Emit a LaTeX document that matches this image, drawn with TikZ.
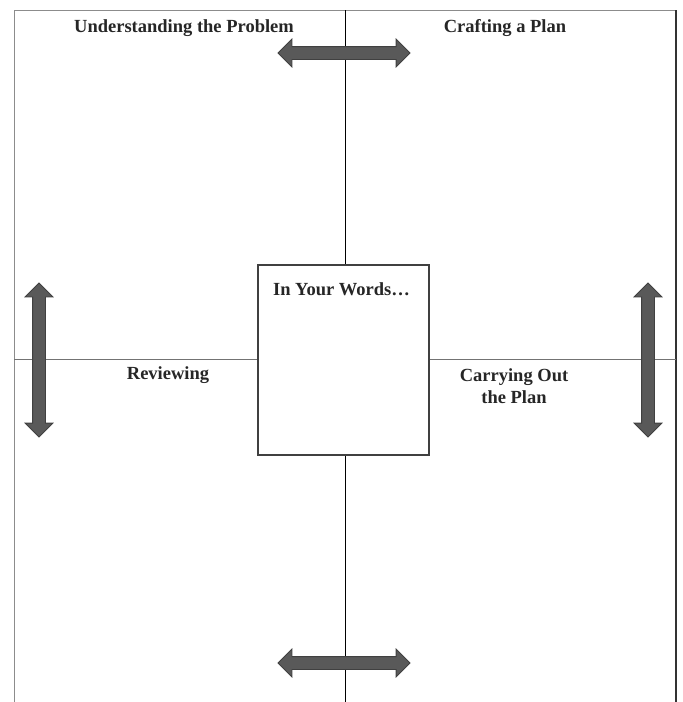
\documentclass[tikz,border=0pt]{standalone}
\usepackage{fontspec}
\setmainfont{Liberation Serif}
\usepackage{tikz}
\usetikzlibrary{shapes,shapes.arrows,calc,positioning}
\tikzset{dblarr/.style={double arrow, draw=black!75, fill=black!65, line width=0.8pt, inner sep=6pt, minimum height=132pt, double arrow head extend=7.5pt}}
\tikzstyle{lbl}=[font=\fontsize{18.5}{22}\selectfont\bfseries, text=black!85, inner sep=0pt]
\tikzstyle{frm}=[draw=black!45, line width=1pt]
\begin{document}
\begin{tikzpicture}[x=1pt, y=-1pt]
\useasboundingbox (0,0) rectangle (683,702);
\coordinate (TL) at (14,10);
\coordinate (TR) at (676,10);
\coordinate (BL) at (14,702);
\coordinate (BR) at (676,702);
\coordinate (MT) at (345,10);
\coordinate (MB) at (345,702);
\coordinate (ML) at (14,359);
\coordinate (MR) at (676,359);
% frame and cross
\draw[frm] (BL) -- (TL) -- (TR);
\draw[draw=black!80, line width=1.4pt] (TR) -- (BR);
\draw[line width=0.9pt] (MT) -- (MB);
\draw[draw=black!55, line width=0.8pt] (ML) -- (MR);
% centre box
\node[draw=black!75, fill=white, line width=1.4pt, minimum width=171pt, minimum height=190pt, inner sep=0pt] (words) at (343.5,360){};
\node[lbl, anchor=base] (wordstxt) at (341.5,295){In Your Words…};
% labels
\node[lbl, anchor=base] (understand) at (184,32){Understanding the Problem};
\node[lbl, anchor=base] (craft) at (505,32){Crafting a Plan};
\node[lbl, anchor=base] (review) at (168,379){Reviewing};
\node[lbl, align=center] (carry) at (514,386){Carrying Out\\the Plan};
% arrows
\node[dblarr] (atop) at (344,53){};
\node[dblarr] (abot) at (344,663){};
\node[dblarr, rotate=90, minimum height=154pt] (aleft) at (39,360){};
\node[dblarr, rotate=90, minimum height=154pt] (aright) at (648,360){};
\end{tikzpicture}
\end{document}
